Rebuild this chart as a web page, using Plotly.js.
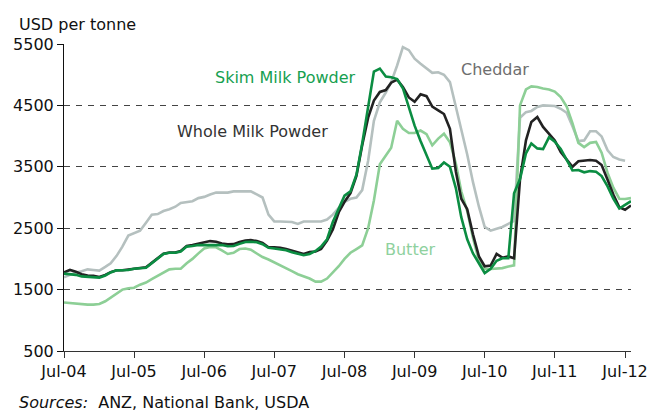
<!DOCTYPE html>
<html>
<head>
<meta charset="utf-8">
<script src="https://cdn.plot.ly/plotly-3.0.1.min.js"></script>
<style>
  html, body { margin: 0; padding: 0; background: #fff; }
  #chart { width: 655px; height: 412px; }
</style>
</head>
<body>
<div id="chart"></div>
<script>
// Monthly dairy commodity prices, USD per tonne, from Jul-2004
const startYear = 2004;
const startMonth = 7;

const skimMilkPowder = [
  1760, 1750, 1740, 1715, 1705, 1700, 1695, 1730, 1780, 1813, 1813, 1820,
  1840, 1850, 1857, 1930, 2010, 2080, 2100, 2100, 2120, 2200, 2210, 2225,
  2225, 2225, 2230, 2225, 2205, 2210, 2245, 2275, 2280, 2270, 2240, 2180,
  2170, 2160, 2140, 2110, 2085, 2060, 2080, 2130, 2200, 2320, 2600, 2810,
  3030, 3100, 3370, 3880, 4450, 5050, 5100, 4970, 4960, 4930, 4780, 4480,
  4170, 3920, 3680, 3470, 3480, 3570, 3500, 3150, 2680, 2320, 2090, 1920,
  1770, 1840, 1970, 2010, 2010, 3070, 3300, 3720, 3880, 3800, 3790, 3980,
  3910, 3790, 3610, 3440, 3447, 3410, 3430, 3420, 3350, 3180, 2980, 2820,
  2880, 2940
];

const wholeMilkPowder = [
  1780, 1820, 1790, 1750, 1730, 1725, 1705, 1740, 1785, 1815, 1815, 1825,
  1845, 1855, 1862, 1935, 2015, 2085, 2105, 2105, 2130, 2210, 2225, 2245,
  2270, 2290, 2280, 2250, 2236, 2240, 2275, 2300, 2307, 2290, 2260, 2190,
  2187, 2180, 2160, 2130, 2100, 2080, 2110, 2120, 2160, 2300, 2480, 2760,
  2930, 3070, 3350, 3850, 4300, 4580, 4720, 4750, 4870, 4920, 4800, 4630,
  4560, 4680, 4650, 4480, 4420, 4360, 4120, 3420, 2980, 2810, 2400, 2040,
  1880, 1890, 2080, 2020, 2040, 2010, 3300, 3930, 4230, 4310, 4150, 4040,
  3930, 3740, 3610, 3500, 3590, 3600, 3610, 3600, 3530, 3290, 3050, 2840,
  2800, 2870
];

const butter = [
  1290, 1280, 1265, 1255, 1255, 1255, 1265, 1310, 1370, 1430, 1500, 1520,
  1530, 1580, 1615, 1670, 1720, 1770, 1830, 1840, 1840, 1930, 2000, 2090,
  2170, 2195, 2190, 2140, 2080, 2100, 2160, 2170, 2150, 2088, 2030, 1990,
  1940, 1900, 1840, 1800, 1750, 1715, 1680, 1630, 1630, 1680, 1780, 1880,
  2000, 2100, 2160, 2220, 2500, 2950, 3540, 3690, 3810, 4250, 4120, 4050,
  4050, 4090, 4030, 3850, 3960, 4040, 3900, 3550, 3100, 2780, 2340, 1970,
  1840, 1835, 1840, 1850, 1875, 1895, 4500, 4760, 4810, 4800, 4775, 4760,
  4725, 4635, 4480, 4210, 3890, 3820, 3890, 3905, 3730, 3400, 3160, 2980,
  2975, 2990
];

const cheddar = [
  1700, 1740, 1780, 1800, 1830, 1820, 1810, 1870, 1930, 2050, 2200, 2380,
  2420, 2460, 2590, 2720, 2730, 2780, 2810, 2850, 2910, 2930, 2940, 2990,
  3010, 3050, 3080, 3080, 3080, 3100, 3100, 3100, 3100, 3050, 3000, 2720,
  2610, 2610, 2610, 2600, 2570, 2610, 2610, 2610, 2610, 2640, 2720, 2830,
  2930, 2980, 3000, 3120, 3600, 4250, 4550, 4710, 4880, 5150, 5450, 5400,
  5260, 5180, 5100, 5030, 5040, 5000, 4880, 4480, 4150, 3700, 3250, 2850,
  2520, 2460, 2490, 2520, 2570, 2620, 4300, 4390, 4410, 4475, 4500, 4500,
  4490, 4445, 4380, 4160, 3920, 3930, 4080, 4080, 3995, 3770, 3660, 3620,
  3600
];

const yTicks = [500, 1500, 2500, 3500, 4500, 5500];

// One date per month, first of the month
function monthDates(n) {
  const out = [];
  for (let i = 0; i < n; i++) {
    const m = startMonth - 1 + i;
    const y = startYear + Math.floor(m / 12);
    const mm = (m % 12) + 1;
    out.push(y + '-' + String(mm).padStart(2, '0') + '-01');
  }
  return out;
}

const FONT = 'DejaVu Sans, Verdana, sans-serif';

const series = [
  { name: 'Cheddar', values: cheddar, color: '#b5c0bf' },
  { name: 'Butter', values: butter, color: '#8dcf96' },
  { name: 'Whole Milk Powder', values: wholeMilkPowder, color: '#222222' },
  { name: 'Skim Milk Powder', values: skimMilkPowder, color: '#0b8d42' }
];

const traces = series.map(s => ({
  type: 'scatter',
  mode: 'lines',
  name: s.name,
  x: monthDates(s.values.length),
  y: s.values,
  line: { color: s.color, width: 2.6 },
  hoverinfo: 'skip'
}));

const layout = {
  width: 655,
  height: 412,
  margin: { l: 64, r: 24, t: 44, b: 61 },
  paper_bgcolor: '#ffffff',
  plot_bgcolor: '#ffffff',
  showlegend: false,
  font: { family: FONT, size: 16, color: '#111111' },
  xaxis: {
    type: 'date',
    range: ['2004-07-01', '2012-08-01'],
    tick0: '2004-07-01',
    dtick: 'M12',
    tickformat: '%b-%y',
    ticks: 'outside',
    ticklen: 6,
    tickcolor: '#333333',
    showline: true,
    linecolor: '#333333',
    linewidth: 1,
    showgrid: false,
    zeroline: false,
    tickfont: { family: FONT, size: 16, color: '#111111' }
  },
  yaxis: {
    range: [500, 5500],
    tickvals: yTicks,
    ticks: 'outside',
    ticklen: 6,
    tickcolor: '#111111',
    showline: true,
    linecolor: '#111111',
    linewidth: 1,
    showgrid: true,
    gridcolor: '#444444',
    gridwidth: 1,
    griddash: '6px,6px',
    zeroline: false,
    tickfont: { family: FONT, size: 16, color: '#111111' }
  },
  annotations: [
    { text: 'USD per tonne', xref: 'paper', yref: 'paper', x: -0.083, y: 1.065,
      xanchor: 'left', yanchor: 'middle', showarrow: false,
      font: { family: FONT, size: 16, color: '#111111' } },
    { text: 'Skim Milk Powder', xref: 'paper', yref: 'y', x: 0.263, y: 4962,
      xanchor: 'left', yanchor: 'middle', showarrow: false,
      font: { family: FONT, size: 16, color: '#16a050' } },
    { text: 'Whole Milk Powder', xref: 'paper', yref: 'y', x: 0.195, y: 4083,
      xanchor: 'left', yanchor: 'middle', showarrow: false,
      font: { family: FONT, size: 16, color: '#333333' } },
    { text: 'Cheddar', xref: 'paper', yref: 'y', x: 0.696, y: 5088,
      xanchor: 'left', yanchor: 'middle', showarrow: false,
      font: { family: FONT, size: 16, color: '#6e6e6e' } },
    { text: 'Butter', xref: 'paper', yref: 'y', x: 0.563, y: 2156,
      xanchor: 'left', yanchor: 'middle', showarrow: false,
      font: { family: FONT, size: 16, color: '#8fd19e' } },
    { text: '<i>Sources:</i>&nbsp; ANZ, National Bank, USDA', xref: 'paper', yref: 'paper',
      x: -0.083, y: -0.169, xanchor: 'left', yanchor: 'middle', showarrow: false,
      font: { family: FONT, size: 16, color: '#111111' } }
  ]
};

Plotly.newPlot('chart', traces, layout, { staticPlot: true, displayModeBar: false });
</script>
</body>
</html>
